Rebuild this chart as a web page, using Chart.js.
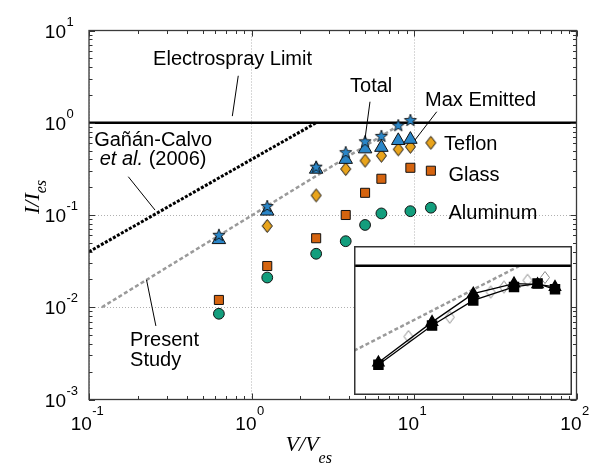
<!DOCTYPE html>
<html>
<head>
<meta charset="utf-8">
<script src="https://cdn.jsdelivr.net/npm/chart.js@4.4.0/dist/chart.umd.min.js"></script>
<style>
  body { margin: 0; background: #fff; }
  #wrap { position: relative; width: 595px; height: 468px; }
  #mainChart { position: absolute; left: 0; top: 0; }
  #insetChart { position: absolute; left: 354px; top: 246px; }
</style>
</head>
<body>
<div id="wrap">
  <canvas id="mainChart" width="595" height="468"></canvas>
  <canvas id="insetChart" width="218" height="149"></canvas>
</div>
<script>
// V/Ves of the measured points
const voltage = [0.63, 1.25, 2.5, 3.8, 5.0, 6.3, 8.0, 9.5];
const maxEmitted = [0.061, 0.125, 0.334, 0.48, 0.63, 0.72, 0.94, 1.07];
const total = [0.054, 0.11, 0.313, 0.40, 0.52, 0.54, 0.64, 0.66];
const teflon = [null, 0.076, 0.163, 0.315, 0.388, 0.439, 0.515, 0.55];
const glass = [0.012, 0.028, 0.056, 0.10, 0.174, 0.247, null, 0.325];
const aluminum = [0.0085, 0.021, 0.038, 0.052, 0.078, 0.104, null, 0.11];

// key markers beside the material names
const keyV = 12.7;
const keyTeflon = 0.607, keyGlass = 0.302, keyAluminum = 0.12;

// reference lines
const limitV = [0.1, 100], limitI = [1, 1];
const gananV = [0.1, 2.5], gananI = [0.04, 1];
const presentV = [0.12, 8.0], presentI = [0.01, 0.93];

const xDecades = [0.1, 1, 10, 100];
const yDecades = [0.001, 0.01, 0.1, 1, 10];
const xExp = ["-1", "0", "1", "2"];
const yExp = ["-3", "-2", "-1", "0", "1"];

// inset, plotted in 0-100 box units
const insetX = [11.2, 35.8, 54.7, 73.4, 84.2, 92.2];
const insetTri = [21.8, 48.9, 68.0, 74.8, 74.3, 72.5];
const insetSq = [20.3, 46.6, 63.5, 72.5, 74.8, 70.9];
const insetOpenX = [25.0, 43.9, 62.7, 68.8, 79.6, 87.6];
const insetOpen = [39.2, 52.2, 69.1, 72.5, 77.0, 78.9];
const insetLimitX = [0, 100], insetLimit = [86.7, 86.7];
const insetFitX = [0, 75.7], insetFit = [29.7, 86.5];

const SANS = '"Liberation Sans", Arial, sans-serif';
const SERIF = '"Liberation Serif", "Times New Roman", serif';

const pts = (xs, ys) => xs.map((x, i) => ({x: x, y: ys[i]})).filter(p => p.y !== null);

function starImg(fill, R, r) {
    const c = document.createElement("canvas");
    const s = Math.ceil(2 * R + 3);
    c.width = c.height = s;
    const g = c.getContext("2d");
    g.translate(s / 2, s / 2 + 0.5);
    g.beginPath();
    for (let i = 0; i < 10; i++) {
        const a = -Math.PI / 2 + i * Math.PI / 5;
        const rad = i % 2 ? r : R;
        g.lineTo(rad * Math.cos(a), rad * Math.sin(a));
    }
    g.closePath();
    g.fillStyle = fill;
    g.fill();
    g.lineWidth = 0.9;
    g.strokeStyle = "#111";
    g.stroke();
    return c;
}

function diamondImg(fill, stroke, w, h) {
    const c = document.createElement("canvas");
    c.width = w + 3;
    c.height = h + 3;
    const g = c.getContext("2d");
    const cx = c.width / 2, cy = c.height / 2;
    g.beginPath();
    g.moveTo(cx, cy - h / 2);
    g.lineTo(cx + w / 2, cy);
    g.lineTo(cx, cy + h / 2);
    g.lineTo(cx - w / 2, cy);
    g.closePath();
    g.fillStyle = fill;
    g.fill();
    g.lineWidth = 1;
    g.strokeStyle = stroke;
    g.stroke();
    return c;
}

const BLUE = "#2a86c8", ORANGE = "#e9a41c", RED = "#d5640f", GREEN = "#139e7d";
const star = starImg(BLUE, 6.4, 2.7);
const diamond = diamondImg(ORANGE, "#111", 10, 13);
const openDiamond = diamondImg("#fff", "#8a8a8a", 9, 12);

// text notes in data coordinates
const notes = [
    {parts: [["Electrospray Limit"]], x: 0.248, y: 4.22, align: "left"},
    {parts: [["Gañán-Calvo"]], x: 0.248, y: 0.559, align: "center"},
    {parts: [["et al.", true], [" (2006)"]], x: 0.248, y: 0.348, align: "center"},
    {parts: [["Total"]], x: 4.04, y: 2.15, align: "left"},
    {parts: [["Max Emitted"]], x: 11.7, y: 1.52, align: "left"},
    {parts: [["Teflon"]], x: 15.3, y: 0.506, align: "left"},
    {parts: [["Glass"]], x: 16.3, y: 0.233, align: "left"},
    {parts: [["Aluminum"]], x: 16.3, y: 0.0905, align: "left"},
    {parts: [["Present"]], x: 0.179, y: 0.00381, align: "left"},
    {parts: [["Study"]], x: 0.179, y: 0.00232, align: "left"}
];
const leaders = [
    [0.829, 3.23, 0.762, 1.18],
    [0.1745, 0.26, 0.255, 0.113],
    [5.36, 1.69, 4.99, 0.661],
    [13.8, 1.316, 10.14, 0.65],
    [0.226, 0.0198, 0.258, 0.00627]
];

const decorations = {
    id: "decorations",
    afterDatasetsDraw(chart) {
        const {ctx, chartArea: a, scales: {x, y}} = chart;
        ctx.save();
        // minor / major inward ticks
        ctx.strokeStyle = "#333";
        ctx.lineWidth = 1;
        ctx.beginPath();
        xDecades.forEach(d => {
            for (let m = 1; m < 10; m++) {
                const v = d * m;
                if (v > 100.0001) break;
                const px = Math.round(x.getPixelForValue(v)) + 0.5;
                const len = m === 1 ? 6 : 3.5;
                ctx.moveTo(px, a.bottom); ctx.lineTo(px, a.bottom - len);
                ctx.moveTo(px, a.top); ctx.lineTo(px, a.top + len);
            }
        });
        yDecades.forEach(d => {
            for (let m = 1; m < 10; m++) {
                const v = d * m;
                if (v > 10.0001) break;
                const py = Math.round(y.getPixelForValue(v)) + 0.5;
                const len = m === 1 ? 6 : 3.5;
                ctx.moveTo(a.left, py); ctx.lineTo(a.left + len, py);
                ctx.moveTo(a.right, py); ctx.lineTo(a.right - len, py);
            }
        });
        ctx.stroke();
        ctx.lineWidth = 1.3;
        ctx.strokeStyle = "#3a3a3a";
        ctx.strokeRect(a.left, a.top, a.right - a.left, a.bottom - a.top);

        // leader lines
        ctx.strokeStyle = "#000";
        ctx.lineWidth = 1;
        ctx.beginPath();
        leaders.forEach(l => {
            ctx.moveTo(x.getPixelForValue(l[0]), y.getPixelForValue(l[1]));
            ctx.lineTo(x.getPixelForValue(l[2]), y.getPixelForValue(l[3]));
        });
        ctx.stroke();

        // notes
        ctx.fillStyle = "#000";
        ctx.textBaseline = "alphabetic";
        ctx.textAlign = "left";
        notes.forEach(n => {
            const fonts = n.parts.map(p => (p[1] ? "italic " : "") + "20px " + SANS);
            let w = 0;
            n.parts.forEach((p, i) => { ctx.font = fonts[i]; w += ctx.measureText(p[0]).width; });
            let px = x.getPixelForValue(n.x);
            if (n.align === "center") px -= w / 2;
            const py = y.getPixelForValue(n.y);
            n.parts.forEach((p, i) => {
                ctx.font = fonts[i];
                ctx.fillText(p[0], px, py);
                px += ctx.measureText(p[0]).width;
            });
        });

        // tick labels 10^n
        xDecades.forEach((d, i) => {
            const px = x.getPixelForValue(d);
            ctx.font = "19px " + SANS;
            const w10 = ctx.measureText("10").width;
            ctx.font = "13px " + SANS;
            const we = ctx.measureText(xExp[i]).width;
            const x0 = px - (w10 + we) / 2 - 2;
            ctx.font = "19px " + SANS;
            ctx.fillText("10", x0, a.bottom + 30);
            ctx.font = "13px " + SANS;
            ctx.fillText(xExp[i], x0 + w10 + 0.5, a.bottom + 15);
        });
        yDecades.forEach((d, i) => {
            const py = y.getPixelForValue(d);
            ctx.font = "19px " + SANS;
            ctx.textAlign = "right";
            ctx.fillText("10", a.left - 23, py + 7);
            ctx.font = "13px " + SANS;
            ctx.textAlign = "left";
            ctx.fillText(yExp[i], a.left - 22.5, py - 5);
        });

        // axis titles
        ctx.textAlign = "left";
        ctx.font = "italic 22px " + SERIF;
        const wv = ctx.measureText("V/V").width;
        ctx.font = "italic 16px " + SERIF;
        const wes = ctx.measureText("es").width;
        let tx = (a.left + a.right) / 2 - 24 - (wv + wes) / 2;
        ctx.font = "italic 22px " + SERIF;
        ctx.fillText("V/V", tx, 451);
        ctx.font = "italic 16px " + SERIF;
        ctx.fillText("es", tx + wv, 463);

        ctx.save();
        ctx.translate(39, (a.top + a.bottom) / 2 - 18);
        ctx.rotate(-Math.PI / 2);
        ctx.font = "italic 22px " + SERIF;
        const wi = ctx.measureText("I/I").width;
        ctx.font = "italic 16px " + SERIF;
        const wes2 = ctx.measureText("es").width;
        const sx = -(wi + wes2) / 2;
        ctx.font = "italic 22px " + SERIF;
        ctx.fillText("I/I", sx, 0);
        ctx.font = "italic 16px " + SERIF;
        ctx.fillText("es", sx + wi, 7);
        ctx.restore();
        ctx.restore();
    }
};

const marker = (data, style, radius, color, order) => ({
    data: data,
    showLine: false,
    pointStyle: style,
    pointRadius: radius,
    pointBackgroundColor: color,
    pointBorderColor: "#111",
    pointBorderWidth: 1,
    order: order
});
const refLine = (data, color, width, dash, order) => ({
    data: data,
    showLine: true,
    borderColor: color,
    borderWidth: width,
    borderDash: dash,
    pointRadius: 0,
    order: order
});

new Chart(document.getElementById("mainChart"), {
    type: "scatter",
    data: {
        datasets: [
            marker(pts(voltage, maxEmitted), star, 6, BLUE, 0),
            marker(pts(voltage, total), "triangle", 7.8, BLUE, 1),
            marker(pts(voltage, teflon).concat([{x: keyV, y: keyTeflon}]), diamond, 6, ORANGE, 2),
            marker(pts(voltage, glass).concat([{x: keyV, y: keyGlass}]), "rect", 6.4, RED, 3),
            marker(pts(voltage, aluminum).concat([{x: keyV, y: keyAluminum}]), "circle", 5.4, GREEN, 4),
            refLine(pts(limitV, limitI), "#000", 2.6, [], 5),
            refLine(pts(gananV, gananI), "#000", 3, [3, 1.6], 6),
            refLine(pts(presentV, presentI), "#9a9a9a", 2.5, [4, 2.5], 7)
        ]
    },
    options: {
        responsive: false,
        animation: false,
        events: [],
        layout: {padding: {left: 89, right: 18.5, top: 30.5, bottom: 68.5}},
        plugins: {legend: {display: false}, tooltip: {enabled: false}},
        scales: {
            x: {
                type: "logarithmic", min: 0.1, max: 100,
                afterBuildTicks: s => { s.ticks = xDecades.map(v => ({value: v})); },
                afterFit: s => { s.height = 0; },
                ticks: {display: false},
                grid: {color: "#b0b0b0", lineWidth: 1, drawTicks: false},
                border: {display: false, dash: [1, 2]}
            },
            y: {
                type: "logarithmic", min: 0.001, max: 10,
                afterBuildTicks: s => { s.ticks = yDecades.map(v => ({value: v})); },
                afterFit: s => { s.width = 0; },
                ticks: {display: false},
                grid: {color: "#b0b0b0", lineWidth: 1, drawTicks: false},
                border: {display: false, dash: [1, 2]}
            }
        }
    },
    plugins: [decorations]
});

const insetBox = {
    id: "insetBox",
    beforeDraw(chart) {
        const ctx = chart.ctx;
        ctx.save();
        ctx.fillStyle = "#fff";
        ctx.fillRect(0, 0, chart.width, chart.height);
        ctx.restore();
    },
    afterDraw(chart) {
        const ctx = chart.ctx;
        ctx.save();
        ctx.strokeStyle = "#333";
        ctx.lineWidth = 1.5;
        ctx.strokeRect(0.75, 0.75, chart.width - 1.5, chart.height - 1.5);
        ctx.restore();
    }
};

new Chart(document.getElementById("insetChart"), {
    type: "scatter",
    data: {
        datasets: [
            {data: pts(insetX, insetTri), showLine: true, borderColor: "#000", borderWidth: 1.3,
             pointStyle: "triangle", pointRadius: 6.5, pointBackgroundColor: "#000", pointBorderColor: "#000", order: 0},
            {data: pts(insetX, insetSq), showLine: true, borderColor: "#000", borderWidth: 1.3,
             pointStyle: "rect", pointRadius: 6.5, pointBackgroundColor: "#000", pointBorderColor: "#000", order: 1},
            {data: pts(insetOpenX, insetOpen), showLine: false, pointStyle: openDiamond, pointRadius: 6, order: 2},
            refLine(pts(insetLimitX, insetLimit), "#000", 2.6, [], 3),
            refLine(pts(insetFitX, insetFit), "#9a9a9a", 2.5, [4, 2.5], 4)
        ]
    },
    options: {
        responsive: false,
        animation: false,
        events: [],
        layout: {padding: 0, autoPadding: false},
        plugins: {legend: {display: false}, tooltip: {enabled: false}},
        scales: {
            x: {type: "linear", min: 0, max: 100, display: false},
            y: {type: "linear", min: 0, max: 100, display: false}
        }
    },
    plugins: [insetBox]
});
</script>
</body>
</html>
